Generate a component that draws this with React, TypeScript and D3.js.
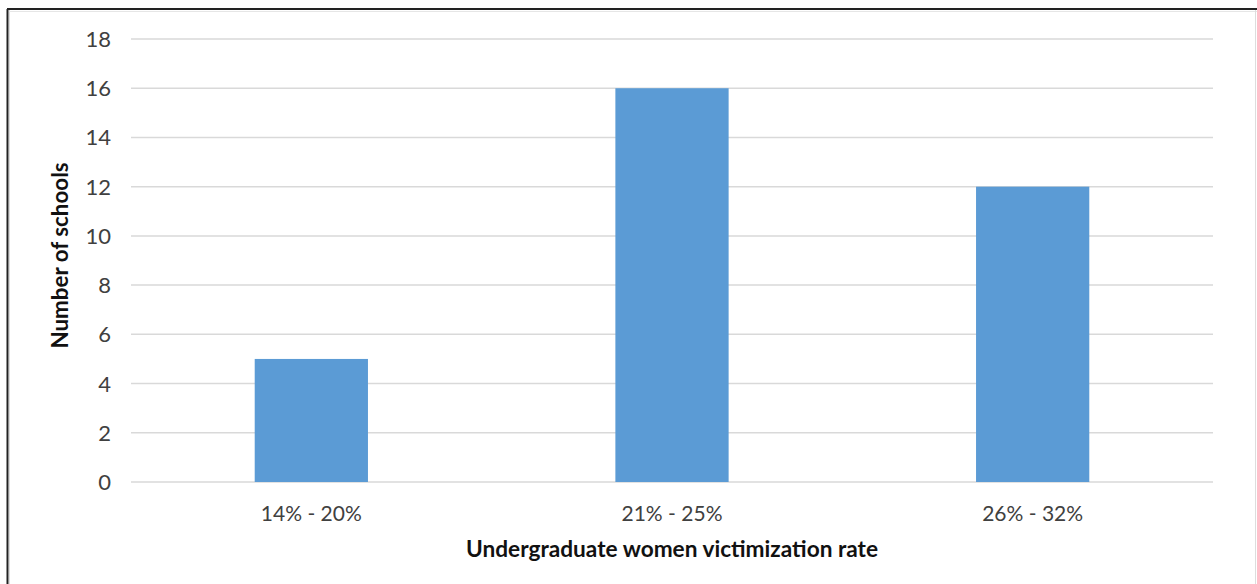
import React from "react";
import * as d3 from "d3";

const categories: string[] = ["14% - 20%", "21% - 25%", "26% - 32%"];
const schoolCounts: number[] = [5, 16, 12];
const yTicks: number[] = [0, 2, 4, 6, 8, 10, 12, 14, 16, 18];
const xTitle = "Undergraduate women victimization rate";
const yTitle = "Number of schools";

const W = 1257;
const H = 584;
const plot = { left: 131, right: 1213, top: 39, bottom: 482 };
const FONT = "Lato, 'Open Sans', 'DejaVu Sans', sans-serif";

export default function App() {
  const x = d3
    .scaleBand<string>()
    .domain(categories)
    .range([plot.left, plot.right])
    .paddingInner(0.686)
    .paddingOuter(0.343);
  const y = d3.scaleLinear().domain([0, 18]).range([plot.bottom, plot.top]);

  return (
    <div style={{ position: "absolute", left: 0, top: 0, background: "#fff" }}>
      <svg width={W} height={H} style={{ display: "block" }}>
        <rect x={0} y={0} width={W} height={H} fill="#fff" />
        {/* frame */}
        <line x1={7.5} y1={9} x2={7.5} y2={H} stroke="#222" strokeWidth={2} />
        <line x1={7} y1={9} x2={W} y2={9} stroke="#222" strokeWidth={2} />
        <line x1={9.5} y1={10} x2={9.5} y2={H} stroke="#ddd" strokeWidth={1} />
        <line x1={9} y1={11.5} x2={W} y2={11.5} stroke="#e6e6e6" strokeWidth={1} />
        <line x1={1255.5} y1={10} x2={1255.5} y2={H} stroke="#ddd" strokeWidth={1} />

        {/* gridlines */}
        {yTicks.map((t) => (
          <line
            key={"g" + t}
            x1={plot.left}
            x2={plot.right}
            y1={y(t)}
            y2={y(t)}
            stroke="#d9d9d9"
            strokeWidth={1.5}
          />
        ))}

        {/* bars */}
        {categories.map((c, i) => (
          <rect
            key={c}
            x={x(c)!}
            y={y(schoolCounts[i])}
            width={x.bandwidth()}
            height={y(0) - y(schoolCounts[i])}
            fill="#5B9BD5"
          />
        ))}

        {/* y tick labels */}
        {yTicks.map((t) => (
          <text
            key={"t" + t}
            x={111}
            y={y(t) + 8}
            textAnchor="end"
            fontFamily={FONT}
            fontSize={22}
            fill="#404040"
          >
            {t}
          </text>
        ))}

        {/* x tick labels */}
        {categories.map((c) => (
          <text
            key={"x" + c}
            x={x(c)! + x.bandwidth() / 2}
            y={521}
            textAnchor="middle"
            fontFamily={FONT}
            fontSize={22}
            fill="#404040"
            textLength={101}
            lengthAdjust="spacingAndGlyphs"
          >
            {c}
          </text>
        ))}

        {/* axis titles */}
        <text
          x={(plot.left + plot.right) / 2}
          y={557}
          textAnchor="middle"
          fontFamily={FONT}
          fontSize={22}
          fontWeight="bold"
          fill="#111"
          textLength={412}
          lengthAdjust="spacingAndGlyphs"
        >
          {xTitle}
        </text>
        <text
          transform={`translate(68, ${(plot.top + plot.bottom) / 2 - 5}) rotate(-90)`}
          textAnchor="middle"
          fontFamily={FONT}
          fontSize={22}
          fontWeight="bold"
          fill="#111"
          textLength={186}
          lengthAdjust="spacingAndGlyphs"
        >
          {yTitle}
        </text>
      </svg>
    </div>
  );
}
